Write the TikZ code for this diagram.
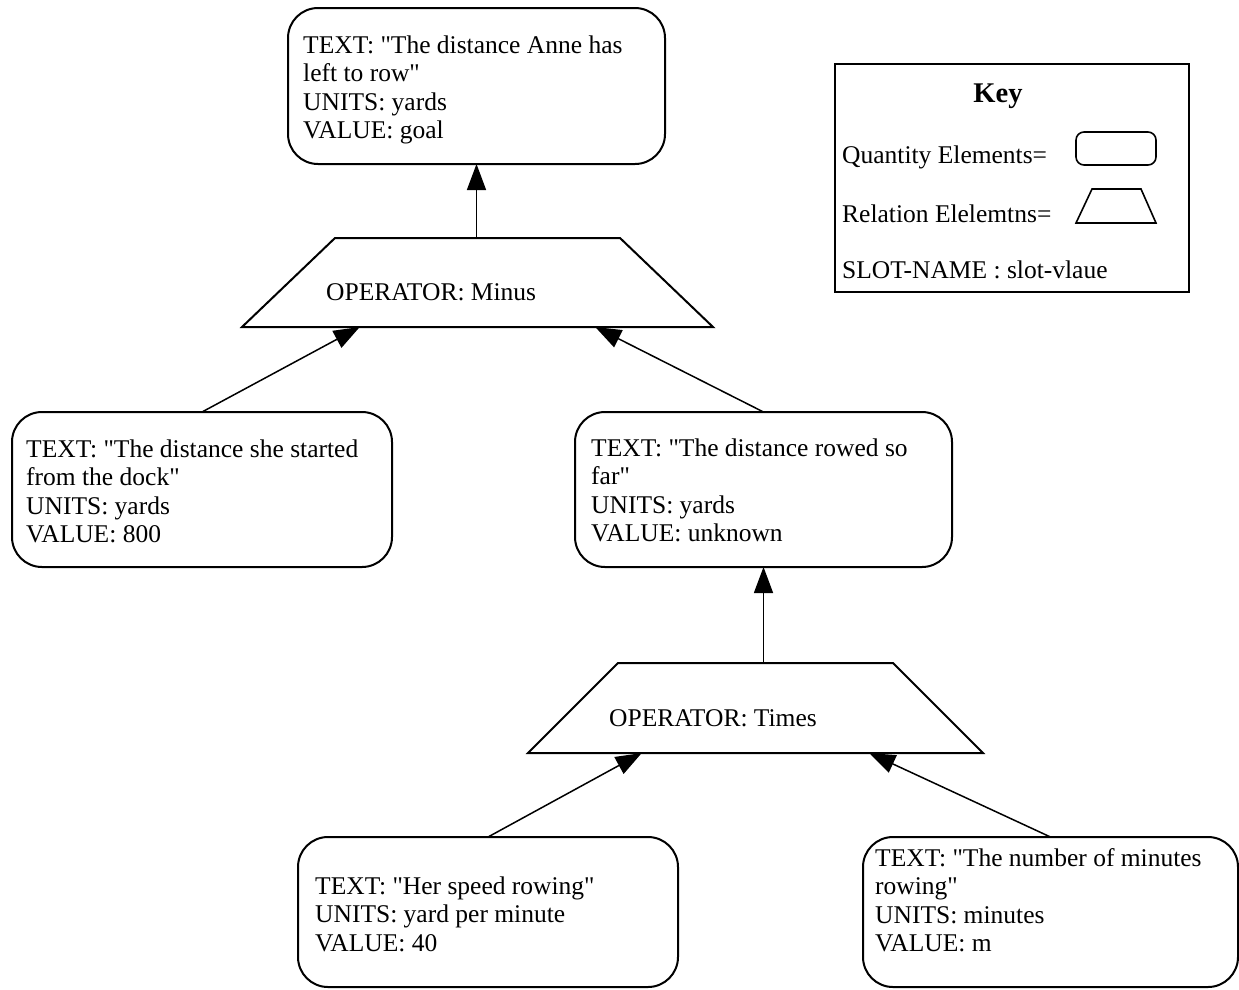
\documentclass[tikz,border=0pt]{standalone}
\usepackage{fontspec}
\setmainfont{Liberation Serif}[Ligatures=TeXOff]
\usetikzlibrary{arrows.meta,calc}
\newcommand{\bodyfont}{\fontsize{25.5pt}{28.5pt}\selectfont}
% left-aligned block of lines whose baseline is that of its first line
\newcommand{\stacked}[1]{\vtop{\halign{##\hfil\cr#1\crcr}}}
\begin{document}
\begin{tikzpicture}[x=1pt,y=-1pt,
  qbox/.style={draw, line width=2pt, rounded corners=30pt, inner sep=0pt, outer sep=0pt},
  trapline/.style={draw, line width=2pt, line join=miter},
  txt/.style={anchor=base west, inner sep=0pt, font=\bodyfont},
  conn/.style={line width=1.5pt, -{Triangle[length=26pt,width=19pt]}}]
\useasboundingbox (0,0) rectangle (1239,989);
\fill[white] (0,0) rectangle (1239,989);

% quantity elements
\node[qbox, minimum width=377pt, minimum height=156pt] (goal) at (476.5,86) {};
\node[txt] (goaltext) at (303,53)
  {\stacked{TEXT: "The distance Anne has\cr left to row"\cr UNITS: yards\cr VALUE: goal}};

\node[qbox, minimum width=380pt, minimum height=155pt] (start) at (202,489.5) {};
\node[txt] (starttext) at (26,457)
  {\stacked{TEXT: "The distance she started\cr from the dock"\cr UNITS: yards\cr VALUE: 800}};

\node[qbox, minimum width=377pt, minimum height=155pt] (sofar) at (763.5,489.5) {};
\node[txt] (sofartext) at (591,456)
  {\stacked{TEXT: "The distance rowed so\cr far"\cr UNITS: yards\cr VALUE: unknown}};

\node[qbox, minimum width=380pt, minimum height=150pt] (speed) at (488,912) {};
\node[txt] (speedtext) at (315,894)
  {\stacked{TEXT: "Her speed rowing"\cr UNITS: yard per minute\cr VALUE: 40}};

\node[qbox, minimum width=375pt, minimum height=150pt] (mins) at (1050.5,912) {};
\node[txt] (minstext) at (875,866)
  {\stacked{TEXT: "The number of minutes\cr rowing"\cr UNITS: minutes\cr VALUE: m}};

% relation elements: corners of the two trapezoids
\coordinate (minusTL) at (335,238);  \coordinate (minusTR) at (620,238);
\coordinate (minusBL) at (242,327);  \coordinate (minusBR) at (713,327);
\draw[trapline] (minusBL) -- (minusBR) -- (minusTR) -- (minusTL) -- cycle;
\node[txt] (minustext) at (326,300) {OPERATOR: Minus};

\coordinate (timesTL) at (618,663);  \coordinate (timesTR) at (893,663);
\coordinate (timesBL) at (528,753);  \coordinate (timesBR) at (983,753);
\draw[trapline] (timesBL) -- (timesBR) -- (timesTR) -- (timesTL) -- cycle;
\node[txt] (timestext) at (609,726) {OPERATOR: Times};

% attachment points on the trapezoid edges
\coordinate (minusOut) at ($(minusTL)!0.5!(minusTR)$);
\coordinate (minusInA) at ($(minusBL)!0.25!(minusBR)$);
\coordinate (minusInB) at ($(minusBL)!0.75!(minusBR)$);
\coordinate (timesOut) at (763.5,663);
\coordinate (timesInA) at ($(timesBL)!0.25!(timesBR)$);
\coordinate (timesInB) at ($(timesBL)!0.75!(timesBR)$);

% connectors
\draw[conn] (goal.south |- minusOut) -- (goal.south);
\draw[conn] (start.north) -- (minusInA);
\draw[conn] (sofar.north) -- (minusInB);
\draw[conn] (sofar.south |- timesOut) -- (sofar.south);
\draw[conn] (speed.north) -- (timesInA);
\draw[conn] (mins.north) -- (timesInB);

% key
\node[draw, line width=1.6pt, minimum width=354pt, minimum height=228pt, inner sep=0pt] (key) at (1012,178) {};
\node[anchor=base, inner sep=0pt, font=\bfseries\fontsize{28.5pt}{30pt}\selectfont] (keytitle) at (998,102) {Key};
\node[txt] (keyq) at (842,163) {Quantity Elements=};
\node[qbox, line width=1.6pt, rounded corners=8pt, minimum width=80pt, minimum height=33pt] (keyqshape) at (1116,148.5) {};
\node[txt] (keyr) at (842,222) {Relation Elelemtns=};
\draw[trapline, line width=1.6pt] (1076,223) -- (1156,223) -- (1141,189) -- (1092,189) -- cycle;
\node[txt] (keys) at (842,278) {SLOT-NAME : slot-vlaue};
\end{tikzpicture}
\end{document}
